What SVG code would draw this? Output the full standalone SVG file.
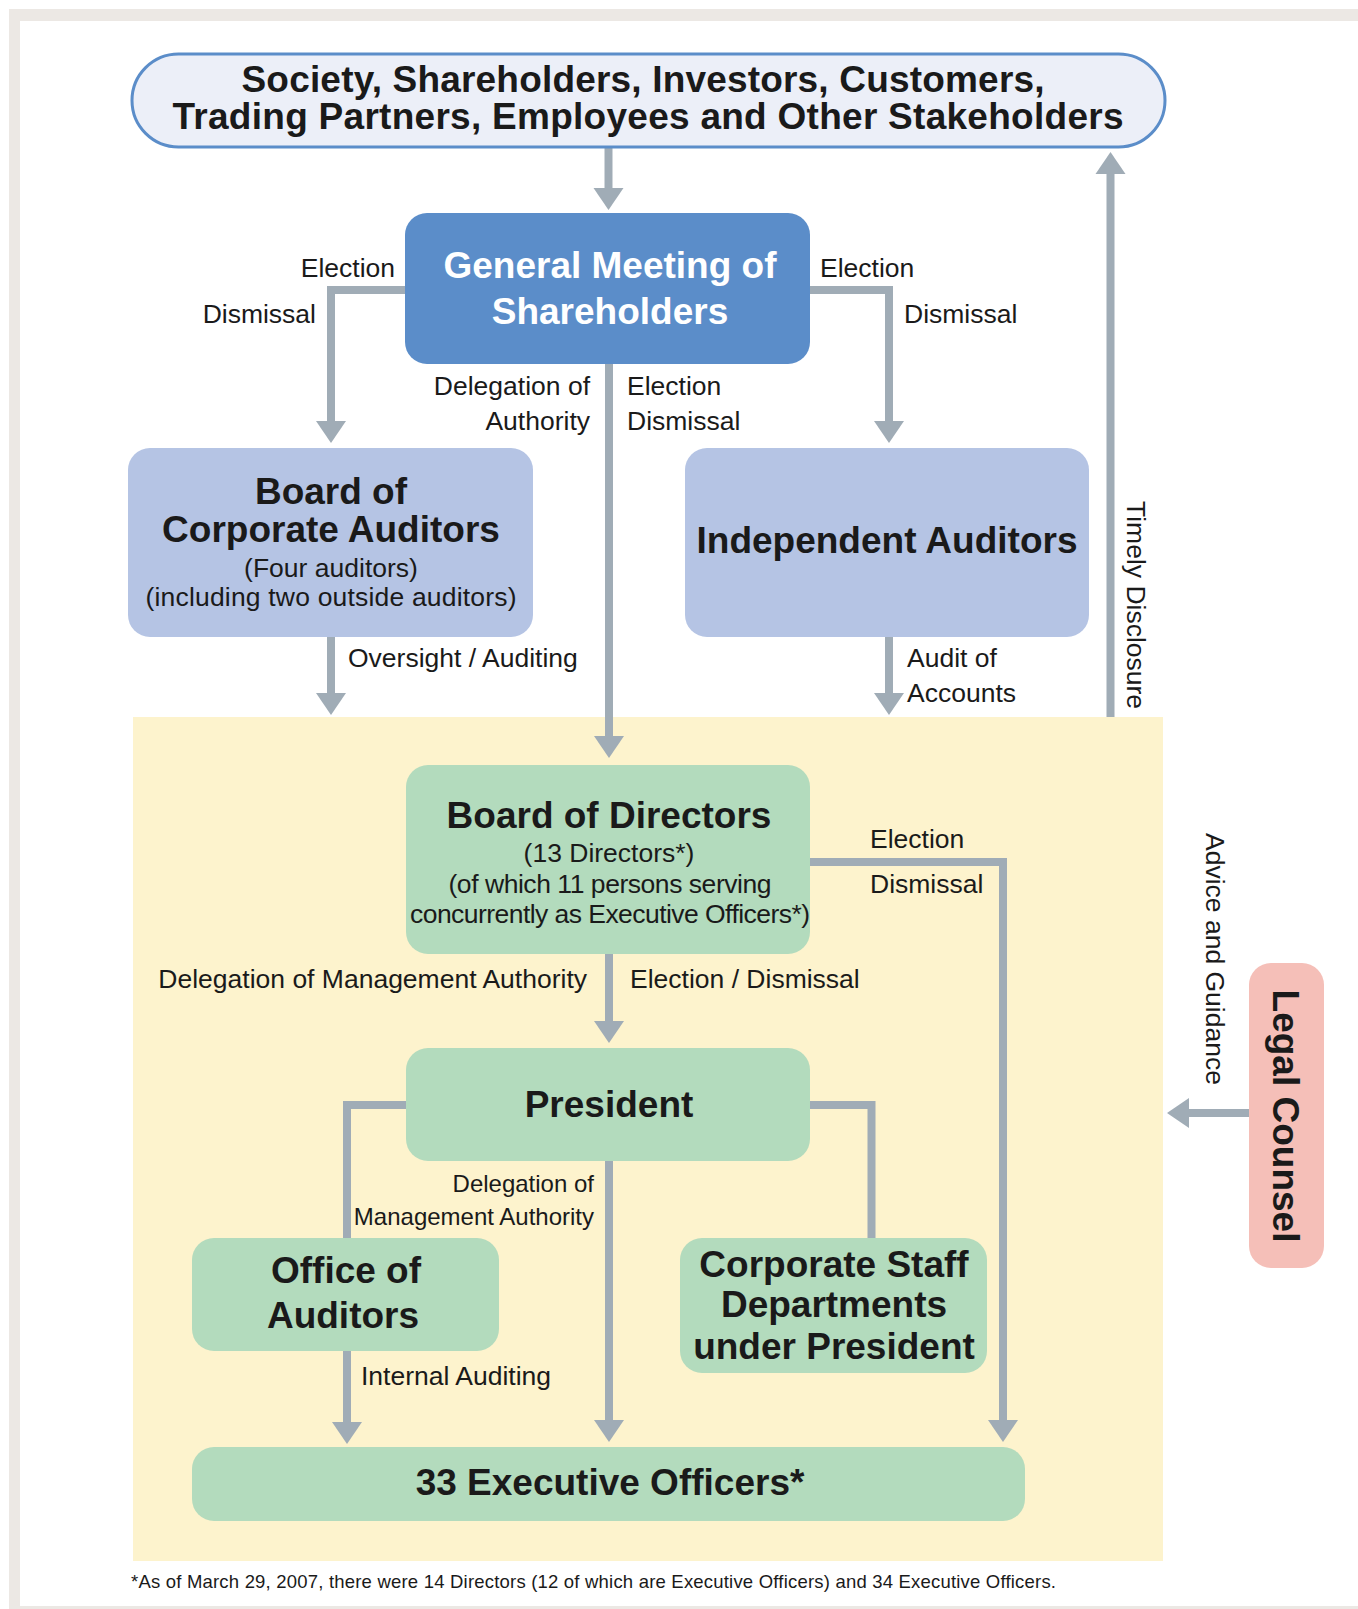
<svg xmlns="http://www.w3.org/2000/svg" width="1358" height="1609" viewBox="0 0 1358 1609">
<defs>
<style>
.t{font-family:"Liberation Sans",Arial,Helvetica,sans-serif;fill:#1a1a1a}
.lbl{font-size:26.5px}
.sm{font-size:24px}
.hd{font-size:37px;font-weight:bold}
.fn{font-size:18.5px}
.c{text-anchor:middle}
.e{text-anchor:end}
.conn{fill:none;stroke:#A0ACB6;stroke-width:8;stroke-linejoin:miter}
.arr{marker-end:url(#ah)}
</style>
<marker id="ah" markerUnits="userSpaceOnUse" markerWidth="24" markerHeight="32" refX="0" refY="15" orient="auto" viewBox="0 0 24 32" overflow="visible">
<path d="M0,0 L22,15 L0,30 z" fill="#A0ACB6"/>
</marker>
</defs>
<rect x="0" y="0" width="1358" height="1609" fill="#ffffff"/>
<rect x="9" y="9" width="1349" height="12" fill="#ECE8E4"/>
<rect x="9" y="9" width="11" height="1600" fill="#ECE8E4"/>
<rect x="9" y="1606" width="1349" height="3" fill="#ECE8E4"/>
<rect id="management-area" x="133" y="717" width="1030" height="844" fill="#FDF3CD"/>

<g id="connectors">
<path class="conn arr" d="M608.5,147 V188"/>
<path class="conn arr" d="M405,290 H331 V421"/>
<path class="conn arr" d="M810,290 H889 V421"/>
<path class="conn arr" d="M609,364 V736"/>
<path class="conn arr" d="M331,637 V693"/>
<path class="conn arr" d="M889,637 V693"/>
<path class="conn arr" d="M1110.5,717 V174"/>
<path class="conn arr" d="M609,954 V1021"/>
<path class="conn arr" d="M810,862 H1003 V1420"/>
<path class="conn" d="M406,1105 H347 V1238"/>
<path class="conn" d="M810,1105 H871.5 V1238"/>
<path class="conn arr" d="M609,1161 V1420"/>
<path class="conn arr" d="M347,1351 V1422"/>
<path class="conn arr" d="M1249,1113 H1189"/>
</g>

<g id="stakeholders">
<rect x="132" y="54" width="1033" height="93" rx="46.5" fill="#ECEFF8" stroke="#5B8DC9" stroke-width="3"/>
<text class="t hd c" x="643" y="92" textLength="803">Society, Shareholders, Investors, Customers,</text>
<text class="t hd c" x="648" y="129" textLength="951">Trading Partners, Employees and Other Stakeholders</text>
</g>

<g id="general-meeting">
<rect x="405" y="213" width="405" height="151" rx="22" fill="#5B8DC9"/>
<text class="t hd c" x="610" y="278" style="fill:#ffffff">General Meeting of</text>
<text class="t hd c" x="610" y="324" style="fill:#ffffff">Shareholders</text>
</g>

<g id="labels-gm">
<text class="t lbl e" x="395" y="277">Election</text>
<text class="t lbl e" x="316" y="323">Dismissal</text>
<text class="t lbl" x="820" y="277">Election</text>
<text class="t lbl" x="904" y="323">Dismissal</text>
<text class="t lbl e" x="590" y="395">Delegation of</text>
<text class="t lbl e" x="590" y="430">Authority</text>
<text class="t lbl" x="627" y="395">Election</text>
<text class="t lbl" x="627" y="430">Dismissal</text>
</g>

<g id="board-corporate-auditors">
<rect x="128" y="448" width="405" height="189" rx="22" fill="#B5C4E4"/>
<text class="t hd c" x="331" y="504">Board of</text>
<text class="t hd c" x="331" y="542">Corporate Auditors</text>
<text class="t lbl c" x="331" y="577">(Four auditors)</text>
<text class="t lbl c" x="331" y="606" textLength="371">(including two outside auditors)</text>
</g>

<g id="independent-auditors">
<rect x="685" y="448" width="404" height="189" rx="22" fill="#B5C4E4"/>
<text class="t hd c" x="887" y="553">Independent Auditors</text>
</g>

<g id="labels-audit">
<text class="t lbl" x="348" y="667">Oversight / Auditing</text>
<text class="t lbl" x="907" y="667">Audit of</text>
<text class="t lbl" x="907" y="702">Accounts</text>
<text class="t lbl" transform="translate(1127,501) rotate(90)">Timely Disclosure</text>
</g>

<g id="board-of-directors">
<rect x="406" y="765" width="404" height="189" rx="22" fill="#B3DBBD"/>
<text class="t hd c" x="609" y="828">Board of Directors</text>
<text class="t lbl c" x="609" y="862">(13 Directors*)</text>
<text class="t lbl c" x="610" y="893" textLength="323">(of which 11 persons serving</text>
<text class="t lbl c" x="610" y="923" textLength="400">concurrently as Executive Officers*)</text>
</g>

<g id="labels-bod">
<text class="t lbl" x="870" y="848">Election</text>
<text class="t lbl" x="870" y="893">Dismissal</text>
<text class="t lbl e" x="587" y="988">Delegation of Management Authority</text>
<text class="t lbl" x="630" y="988">Election / Dismissal</text>
</g>

<g id="president">
<rect x="406" y="1048" width="404" height="113" rx="22" fill="#B3DBBD"/>
<text class="t hd c" x="609" y="1117">President</text>
</g>

<g id="labels-president">
<text class="t sm e" x="594" y="1192">Delegation of</text>
<text class="t sm e" x="594" y="1225">Management Authority</text>
<text class="t lbl" x="361" y="1385">Internal Auditing</text>
</g>

<g id="office-of-auditors">
<rect x="192" y="1238" width="307" height="113" rx="22" fill="#B3DBBD"/>
<text class="t hd c" x="346" y="1283">Office of</text>
<text class="t hd c" x="343" y="1328">Auditors</text>
</g>

<g id="corporate-staff">
<rect x="680" y="1238" width="307" height="135" rx="22" fill="#B3DBBD"/>
<text class="t hd c" x="834" y="1277">Corporate Staff</text>
<text class="t hd c" x="834" y="1317">Departments</text>
<text class="t hd c" x="834" y="1359">under President</text>
</g>

<g id="executive-officers">
<rect x="192" y="1447" width="833" height="74" rx="22" fill="#B3DBBD"/>
<text class="t hd c" x="610" y="1495">33 Executive Officers*</text>
</g>

<g id="legal-counsel">
<rect x="1249" y="963" width="75" height="305" rx="22" fill="#F5BFB8"/>
<text class="t hd c" transform="translate(1273,1116) rotate(90)">Legal Counsel</text>
</g>
<text class="t lbl" transform="translate(1206,833) rotate(90)">Advice and Guidance</text>

<text class="t fn" x="131" y="1588" textLength="925">*As of March 29, 2007, there were 14 Directors (12 of which are Executive Officers) and 34 Executive Officers.</text>
</svg>
